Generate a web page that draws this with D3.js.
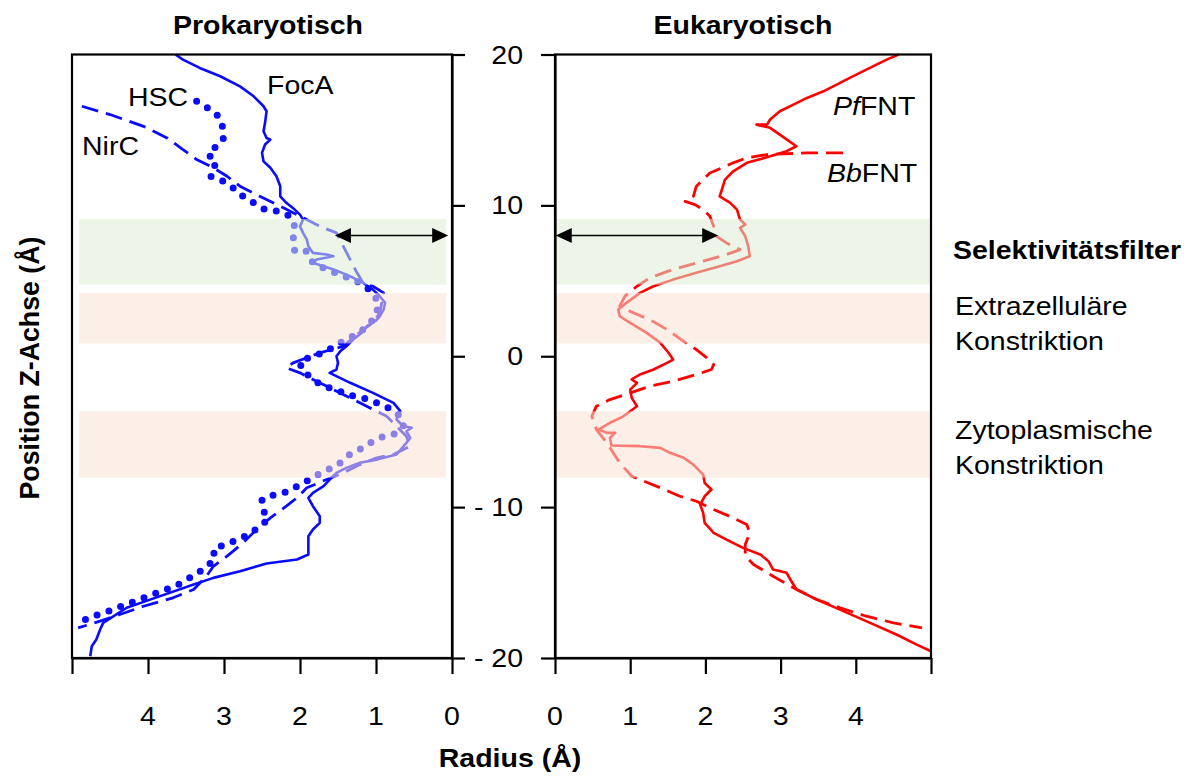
<!DOCTYPE html>
<html><head><meta charset="utf-8">
<script src="https://cdn.jsdelivr.net/npm/d3@7"></script>
<style>body{margin:0;background:#fff;} svg{display:block;} text{font-family:"Liberation Sans",Arial,Helvetica,sans-serif;fill:#000;}</style>
</head><body><svg id="c" width="1204" height="777"></svg>
<script>
// ---------- data ----------
const zTicks = [20, 10, 0, -10, -20];
const zTickLabels = ["20", "10", "0", "- 10", "- 20"];
const rTicks = [0, 1, 2, 3, 4, 5];
const rTickLabels = ["0", "1", "2", "3", "4", ""];
const bandNames = ["Selektivitätsfilter", "Extrazelluläre Konstriktion", "Zytoplasmische Konstriktion"];
const bandTop = [9.1, 4.2, -3.65];
const bandBottom = [4.75, 0.85, -8.05];
const arrowZ = 8.0;
const leftArrowR = [1.54, 0.05];
const rightArrowR = [0.01, 2.17];

// prokaryotic [radius, z]
const focA = [[3.64,20],[3.54,19.66],[3.32,19.11],[3.05,18.56],[2.79,17.89],[2.61,17.23],[2.48,16.57],[2.44,16.24],[2.46,15.47],[2.48,14.91],[2.44,14.47],[2.39,14.36],[2.46,14.03],[2.50,13.48],[2.48,12.92],[2.39,12.49],[2.31,11.93],[2.26,11.27],[2.26,10.60],[2.18,10.17],[2.07,9.72],[2.0,9.39],[1.96,9.06],[2.0,8.61],[1.96,8.18],[1.91,7.73],[1.89,7.29],[1.83,6.85],[1.65,6.74],[1.56,6.63],[1.78,6.41],[1.83,6.19],[1.69,5.96],[1.56,5.75],[1.39,5.41],[1.30,5.20],[1.17,4.86],[1.04,4.42],[0.95,3.98],[0.88,3.54],[0.90,3.09],[0.95,2.65],[1.01,2.32],[1.12,1.99],[1.19,1.55],[1.30,1.11],[1.39,0.66],[1.47,0.33],[1.52,0],[1.50,-0.44],[1.52,-0.88],[1.61,-1.10],[1.34,-1.76],[1.04,-2.43],[0.77,-3.09],[0.68,-3.64],[0.73,-4.19],[0.64,-4.64],[0.53,-4.74],[0.60,-4.97],[0.55,-5.41],[0.60,-5.74],[0.73,-6.51],[0.99,-6.85],[1.21,-7.06],[1.39,-7.40],[1.52,-7.73],[1.61,-8.17],[1.69,-8.61],[1.83,-9.05],[1.89,-9.38],[1.83,-9.94],[1.74,-10.60],[1.74,-11.04],[1.83,-11.48],[1.89,-11.93],[1.89,-12.59],[1.89,-13.14],[2.04,-13.47],[2.44,-13.74],[2.79,-14.25],[3.14,-14.69],[3.40,-15.13],[3.84,-15.90],[4.28,-16.67],[4.59,-17.67],[4.63,-18.11],[4.68,-18.77],[4.74,-19.22],[4.76,-19.88]];
const nirC = [[4.87,16.57],[4.50,16.02],[4.06,15.24],[3.75,14.47],[3.54,13.70],[3.36,13.04],[3.14,12.49],[2.96,11.93],[2.79,11.27],[2.53,10.60],[2.26,9.94],[2.0,9.28],[1.74,8.61],[1.52,8.18],[1.43,7.29],[1.34,6.41],[1.25,5.53],[1.17,4.86],[1.04,4.64],[0.90,4.20],[0.95,2.88],[1.04,2.21],[1.17,1.77],[1.30,1.22],[1.43,0.66],[1.74,0.23],[2.09,-0.44],[2.18,-0.77],[2.0,-1.10],[1.83,-1.54],[1.56,-2.21],[1.34,-2.76],[1.04,-3.53],[0.86,-3.98],[0.73,-4.64],[0.60,-5.30],[0.55,-5.96],[0.77,-6.51],[0.99,-6.73],[1.21,-7.18],[1.43,-7.73],[1.65,-8.17],[1.91,-8.72],[2.04,-9.38],[2.18,-9.94],[2.39,-10.71],[2.57,-11.48],[2.75,-12.37],[2.96,-13.25],[3.14,-13.92],[3.23,-14.58],[3.40,-15.46],[3.67,-16.01],[4.06,-16.57],[4.37,-17.12],[4.63,-17.56],[4.92,-18.0]];
const hsc = [[3.36,16.90],[3.18,16.35],[3.05,15.80],[3.01,15.02],[3.01,14.36],[3.10,13.92],[3.21,13.37],[3.10,12.92],[3.18,11.93],[3.01,11.60],[2.88,11.16],[2.75,10.60],[2.61,10.17],[2.46,9.72],[2.29,9.61],[2.13,9.28],[2.07,8.61],[2.09,7.73],[2.07,6.96],[1.91,6.96],[1.83,6.19],[1.65,5.75],[1.47,5.41],[1.30,5.08],[1.17,4.75],[1.04,4.20],[0.97,3.54],[0.99,2.88],[1.04,2.43],[1.17,1.77],[1.34,1.22],[1.52,0.78],[1.65,0.33],[1.83,0],[2.0,-0.33],[1.98,-0.88],[1.83,-1.54],[1.69,-1.99],[1.52,-2.21],[1.39,-2.54],[1.17,-2.76],[0.99,-3.09],[0.84,-3.42],[0.68,-3.98],[0.64,-4.64],[0.77,-5.19],[0.90,-5.30],[1.04,-5.63],[1.17,-6.07],[1.32,-6.40],[1.52,-7.29],[1.69,-7.62],[1.87,-8.17],[2.0,-8.50],[2.15,-8.95],[2.33,-9.17],[2.50,-9.50],[2.50,-10.05],[2.42,-10.82],[2.64,-11.70],[2.81,-12.15],[2.99,-12.48],[3.14,-12.81],[3.12,-13.47],[3.23,-13.92],[3.34,-14.35],[3.49,-14.80],[3.64,-15.24],[3.82,-15.57],[4.0,-15.90],[4.17,-16.24],[4.35,-16.57],[4.52,-16.90],[4.72,-17.23],[4.87,-17.56]];

// eukaryotic [radius, z]
const pfFNT = [[4.57,20],[4.41,19.66],[4.14,19.0],[3.92,18.45],[3.70,17.89],[3.57,17.56],[3.35,17.12],[3.17,16.68],[2.99,16.24],[2.86,15.69],[2.82,15.35],[2.68,15.35],[2.86,15.14],[2.99,14.69],[3.21,13.92],[3.08,13.59],[2.86,13.25],[2.55,12.82],[2.37,12.26],[2.26,11.71],[2.22,11.05],[2.19,10.60],[2.33,10.17],[2.42,9.72],[2.46,9.06],[2.53,8.73],[2.46,8.51],[2.53,7.95],[2.57,7.29],[2.59,6.63],[2.42,6.30],[2.19,5.96],[1.88,5.53],[1.57,5.08],[1.31,4.64],[1.13,4.20],[0.95,3.54],[0.84,3.09],[0.86,2.65],[1.0,2.21],[1.22,1.55],[1.40,0.89],[1.51,0.23],[1.57,-0.22],[1.49,-0.44],[1.31,-0.88],[1.13,-1.21],[1.02,-1.54],[1.09,-1.76],[1.0,-2.21],[1.02,-2.76],[1.09,-3.31],[0.91,-3.98],[0.73,-4.41],[0.58,-4.86],[0.69,-5.08],[0.80,-5.08],[0.73,-5.41],[0.75,-5.92],[1.13,-5.96],[1.40,-6.07],[1.53,-6.40],[1.71,-6.73],[1.84,-7.18],[1.97,-7.84],[1.99,-8.39],[2.08,-8.83],[1.99,-9.28],[1.93,-9.83],[1.97,-10.38],[1.99,-11.04],[2.11,-11.70],[2.28,-12.15],[2.50,-12.70],[2.73,-13.14],[2.84,-13.59],[2.90,-14.14],[3.08,-14.35],[3.13,-14.80],[3.21,-15.46],[3.48,-16.12],[3.79,-16.79],[4.19,-17.67],[4.54,-18.44],[4.81,-19.11],[5.0,-19.55]];
const bbFNT = [[3.83,13.48],[3.35,13.48],[3.04,13.41],[2.82,13.37],[2.55,13.15],[2.37,12.82],[2.22,12.49],[2.06,12.15],[1.97,11.71],[1.88,11.27],[1.84,10.60],[1.73,10.27],[1.86,10.05],[1.97,9.72],[2.06,9.28],[2.11,8.61],[2.15,7.95],[2.28,7.51],[2.46,7.07],[2.28,6.74],[1.97,6.30],[1.57,5.75],[1.26,5.20],[1.09,4.64],[0.93,3.98],[0.86,3.31],[1.04,2.88],[1.26,2.43],[1.49,1.77],[1.71,0.99],[1.88,0.44],[2.02,-0.11],[2.11,-0.55],[2.08,-0.88],[1.88,-1.21],[1.57,-1.66],[1.26,-1.99],[1.0,-2.43],[0.73,-2.87],[0.55,-3.31],[0.49,-3.98],[0.55,-4.86],[0.69,-5.74],[0.86,-7.06],[1.02,-7.95],[1.13,-8.17],[1.40,-8.72],[1.66,-9.28],[1.88,-9.61],[2.11,-10.16],[2.37,-10.71],[2.55,-11.15],[2.59,-11.70],[2.53,-12.48],[2.53,-13.25],[2.64,-13.80],[2.90,-14.58],[3.17,-15.35],[3.48,-16.12],[3.79,-16.67],[4.14,-17.23],[4.50,-17.67],[4.88,-18.0]];

// ---------- layout ----------
const svg = d3.select("#c");
const y = d3.scaleLinear().domain([20, -20]).range([54.5, 658]);
const xL = d3.scaleLinear().domain([5, 0]).range([72, 452]);
const xR = d3.scaleLinear().domain([0, 5]).range([555, 931]);
const SX = 1.14; // horizontal glyph stretch of the figure

const BLUE = "#0a0aff", RED = "#ff0000";
const bandFill = ["#deedd7", "#f8e2d4", "#f8e2d4"];

function lineGen(xs) { return d3.line().x(d => xs(d[0])).y(d => y(d[1])); }

function drawSeries(data, xs, color, kind) {
  const p = svg.append("path").datum(data).attr("d", lineGen(xs))
    .attr("fill", "none").attr("stroke", color).attr("stroke-linejoin", "round");
  if (kind === "solid") p.attr("stroke-width", 2.6);
  if (kind === "dash") p.attr("stroke-width", 2.8).attr("stroke-dasharray", "17,8");
  if (kind === "dot") p.attr("stroke-width", 7).attr("stroke-dasharray", "0,12.5").attr("stroke-linecap", "round");
}

drawSeries(focA, xL, BLUE, "solid");
drawSeries(nirC, xL, BLUE, "dash");
drawSeries(hsc, xL, BLUE, "dot");
drawSeries(pfFNT, xR, RED, "solid");
drawSeries(bbFNT, xR, RED, "dash");

// bands (translucent overlay, lightening lines underneath)
bandTop.forEach((t, i) => {
  svg.append("rect").attr("x", 79).attr("width", 446 - 79)
    .attr("y", y(t)).attr("height", y(bandBottom[i]) - y(t))
    .attr("fill", bandFill[i]).attr("fill-opacity", 0.55);
  svg.append("rect").attr("x", 556).attr("width", 930 - 556)
    .attr("y", y(t)).attr("height", y(bandBottom[i]) - y(t))
    .attr("fill", bandFill[i]).attr("fill-opacity", 0.55);
});

// arrows
function arrow(xs, r0, r1) {
  const a = xs(r0), b = xs(r1), yy = y(arrowZ);
  const L = 16, H = 7.5;
  const dir = b > a ? 1 : -1;
  svg.append("line").attr("x1", a + dir * L * 0.8).attr("x2", b - dir * L * 0.8)
    .attr("y1", yy).attr("y2", yy).attr("stroke", "#000").attr("stroke-width", 1.6);
  svg.append("path").attr("d", `M${a},${yy}L${a + dir * L},${yy - H}L${a + dir * L},${yy + H}Z`).attr("fill", "#000");
  svg.append("path").attr("d", `M${b},${yy}L${b - dir * L},${yy - H}L${b - dir * L},${yy + H}Z`).attr("fill", "#000");
}
arrow(xL, leftArrowR[0], leftArrowR[1]);
arrow(xR, rightArrowR[0], rightArrowR[1]);

// frames
const frame = { fill: "none", stroke: "#000", "stroke-width": 2.2 };
function rect(x0, x1) {
  const r = svg.append("rect").attr("x", x0).attr("y", y(20)).attr("width", x1 - x0).attr("height", y(-20) - y(20));
  Object.entries(frame).forEach(([k, v]) => r.attr(k, v));
}
rect(xL(5), xL(0));
rect(xR(0), xR(5));

// axes (ticks)
function styleAxis(g) { g.selectAll("line,path").attr("stroke", "#000").attr("stroke-width", 2.2); g.selectAll("text").remove(); }
svg.append("g").attr("transform", `translate(${xL(0)},0)`).call(d3.axisRight(y).tickValues(zTicks).tickSize(13).tickSizeOuter(0)).call(styleAxis);
svg.append("g").attr("transform", `translate(${xR(0)},0)`).call(d3.axisLeft(y).tickValues(zTicks).tickSize(14).tickSizeOuter(0)).call(styleAxis);
svg.append("g").attr("transform", `translate(0,${y(-20)})`).call(d3.axisBottom(xL).tickValues(rTicks).tickSize(16).tickSizeOuter(0)).call(styleAxis);
svg.append("g").attr("transform", `translate(0,${y(-20)})`).call(d3.axisBottom(xR).tickValues(rTicks).tickSize(16).tickSizeOuter(0)).call(styleAxis);

// text helper
function txt(x, yy, str, opt = {}) {
  const t = svg.append("text")
    .attr("transform", `translate(${x},${yy}) scale(${opt.sx || SX},1)`)
    .attr("text-anchor", opt.anchor || "start")
    .attr("font-size", opt.size || 25)
    .attr("font-weight", opt.bold ? "bold" : "normal");
  if (Array.isArray(str)) str.forEach(s => t.append("tspan").attr("font-style", s.i ? "italic" : "normal").text(s.t));
  else t.text(str);
  return t;
}

// tick labels
rTicks.forEach((r, i) => {
  if (rTickLabels[i]) { txt(xL(r), 725, rTickLabels[i], { anchor: "middle" }); txt(xR(r), 725, rTickLabels[i], { anchor: "middle" }); }
});
zTicks.forEach((z, i) => txt(523, y(z) + 9, zTickLabels[i], { anchor: "end" }));

// titles
txt(268, 34, "Prokaryotisch", { anchor: "middle", bold: true });
txt(743, 34, "Eukaryotisch", { anchor: "middle", bold: true });
txt(510, 767, "Radius (Å)", { anchor: "middle", bold: true });
svg.append("text").attr("transform", `translate(39,368) rotate(-90) scale(1.07,${SX})`)
  .attr("text-anchor", "middle").attr("font-size", 25).attr("font-weight", "bold").text("Position Z-Achse (Å)");

// series labels
txt(267, 94, "FocA");
txt(128, 106, "HSC");
txt(82, 155, "NirC");
txt(833, 115, [{ t: "Pf", i: true }, { t: "FNT" }]);
txt(827, 182, [{ t: "Bb", i: true }, { t: "FNT" }]);

// band labels
txt(953, 259, bandNames[0], { bold: true });
txt(955, 315, "Extrazelluläre");
txt(955, 350, "Konstriktion");
txt(955, 439, "Zytoplasmische");
txt(955, 474, "Konstriktion");
</script></body></html>
